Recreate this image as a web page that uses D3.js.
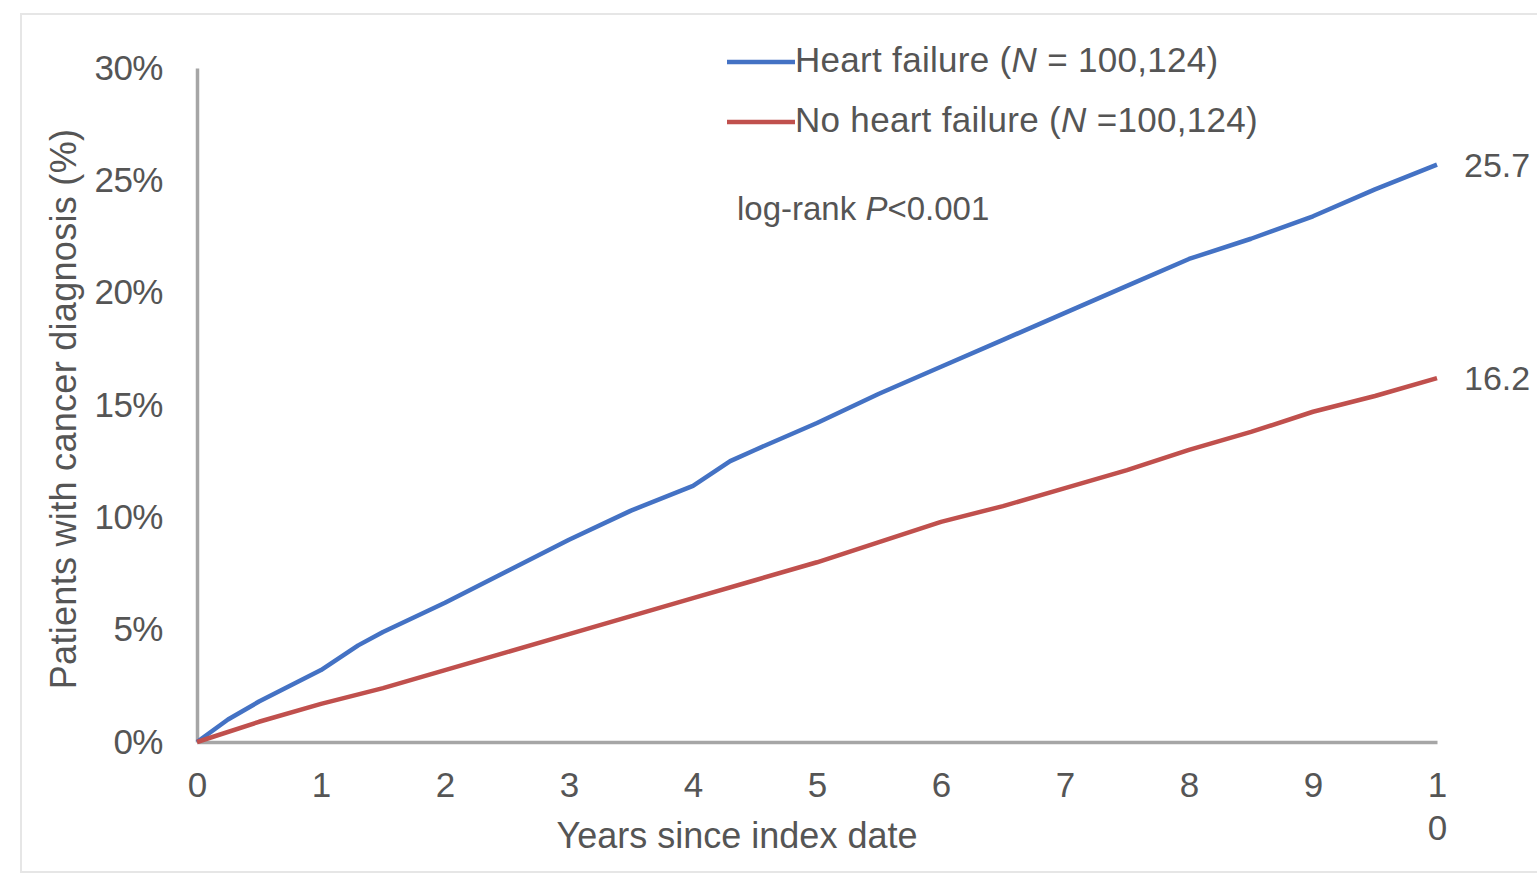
<!DOCTYPE html>
<html>
<head>
<meta charset="utf-8">
<script src="https://cdn.jsdelivr.net/npm/d3@7"></script>
<style>
    body { margin: 0; background: #fff; }
    text { font-family: "Liberation Sans", Arial, sans-serif; fill: #555; }
</style>
</head>
<body>
<svg id="chart" width="1537" height="876"></svg>
<script>
const width = 1537;
const height = 876;

// years since index date
const hfYears = [0, 0.25, 0.5, 1, 1.3, 1.5, 2, 2.5, 3, 3.5, 4, 4.3, 4.5, 5, 5.5, 6, 6.5, 7, 7.5, 8, 8.5, 9, 9.5, 10];
const hfValues = [0, 1.0, 1.8, 3.2, 4.3, 4.9, 6.2, 7.6, 9.0, 10.3, 11.4, 12.5, 13.0, 14.2, 15.5, 16.7, 17.9, 19.1, 20.3, 21.5, 22.4, 23.4, 24.6, 25.7];
const noHfYears = [0, 0.5, 1, 1.5, 2, 2.5, 3, 3.5, 4, 4.5, 5, 5.5, 6, 6.5, 7, 7.5, 8, 8.5, 9, 9.5, 10];
const noHfValues = [0, 0.9, 1.7, 2.4, 3.2, 4.0, 4.8, 5.6, 6.4, 7.2, 8.0, 8.9, 9.8, 10.5, 11.3, 12.1, 13.0, 13.8, 14.7, 15.4, 16.2];
const xTicks = [0, 1, 2, 3, 4, 5, 6, 7, 8, 9, 10];
const yTicks = [0, 5, 10, 15, 20, 25, 30];
const endLabels = ["25.7", "16.2"];

const svg = d3.select("#chart");

// faint frame round the figure
svg.append("rect")
    .attr("x", 21)
    .attr("y", 14)
    .attr("width", width - 16)
    .attr("height", 858)
    .attr("fill", "none")
    .attr("stroke", "#e6e6e6")
    .attr("stroke-width", 2);

const x = d3.scaleLinear().domain([0, 10]).range([197, 1437]);
const y = d3.scaleLinear().domain([0, 30]).range([742, 68]);

// axes
const yAxis = svg.append("g")
    .attr("transform", `translate(${x(0)},0)`)
    .call(d3.axisLeft(y).tickValues(yTicks).tickSize(0).tickPadding(34).tickFormat(d => d + "%"));
yAxis.select(".domain").attr("stroke", "#a6a6a6").attr("stroke-width", 3.5);
yAxis.selectAll("text")
    .style("font-size", "35px")
    .attr("fill", "#555")
    .attr("letter-spacing", "-0.5");

const xAxis = svg.append("g")
    .attr("transform", `translate(0,${y(0)})`)
    .call(d3.axisBottom(x).tickValues(xTicks).tickSize(0).tickPadding(0).tickFormat(""));
xAxis.select(".domain").attr("stroke", "#a6a6a6").attr("stroke-width", 3.5);

// tick labels; "10" wraps onto two lines like in the original
xAxis.selectAll(".tick").each(function(d) {
    const t = d3.select(this).select("text")
        .attr("y", 0)
        .attr("dy", null)
        .style("font-size", "35px")
        .attr("fill", "#555");
    String(d).split("").forEach((ch, i) => {
        t.append("tspan")
            .attr("x", 0)
            .attr("y", 55 + i * 43)
            .text(ch);
    });
});

// lines
const line = d3.line()
    .x(d => x(d[0]))
    .y(d => y(d[1]));

const series = [
    { years: hfYears, values: hfValues, color: "#4472c4" },
    { years: noHfYears, values: noHfValues, color: "#c0504d" }
];

series.forEach(s => {
    svg.append("path")
        .datum(d3.zip(s.years, s.values))
        .attr("d", line)
        .attr("fill", "none")
        .attr("stroke", s.color)
        .attr("stroke-width", 4.5)
        .attr("stroke-linejoin", "round");
});

// end-of-line values
series.forEach((s, i) => {
    svg.append("text")
        .attr("x", x(10) + 27)
        .attr("y", y(s.values[s.values.length - 1]))
        .attr("dy", "0.35em")
        .style("font-size", "34px")
        .text(endLabels[i]);
});

// axis titles
svg.append("text")
    .attr("x", 737)
    .attr("y", 848)
    .attr("text-anchor", "middle")
    .style("font-size", "36px")
    .text("Years since index date");

svg.append("text")
    .attr("transform", "translate(76,409) rotate(-90)")
    .attr("text-anchor", "middle")
    .style("font-size", "36px")
    .attr("letter-spacing", "0.3")
    .text("Patients with cancer diagnosis (%)");

// legend
const legendItems = [
    { label: "Heart failure (", n: "N", rest: " = 100,124)", color: "#4472c4", y: 62 },
    { label: "No heart failure (", n: "N", rest: " =100,124)", color: "#c0504d", y: 122 }
];

legendItems.forEach(item => {
    svg.append("line")
        .attr("x1", 727)
        .attr("x2", 795)
        .attr("y1", item.y)
        .attr("y2", item.y)
        .attr("stroke", item.color)
        .attr("stroke-width", 4.5);
    const t = svg.append("text")
        .attr("x", 795)
        .attr("y", item.y - 2)
        .attr("dy", "0.35em")
        .style("font-size", "35px")
        .attr("letter-spacing", "0.3");
    t.append("tspan").text(item.label);
    t.append("tspan").attr("font-style", "italic").text(item.n);
    t.append("tspan").text(item.rest);
});

const pText = svg.append("text")
    .attr("x", 737)
    .attr("y", 208)
    .attr("dy", "0.35em")
    .style("font-size", "33px");
pText.append("tspan").text("log-rank ");
pText.append("tspan").attr("font-style", "italic").text("P");
pText.append("tspan").text("<0.001");
</script>
</body>
</html>
